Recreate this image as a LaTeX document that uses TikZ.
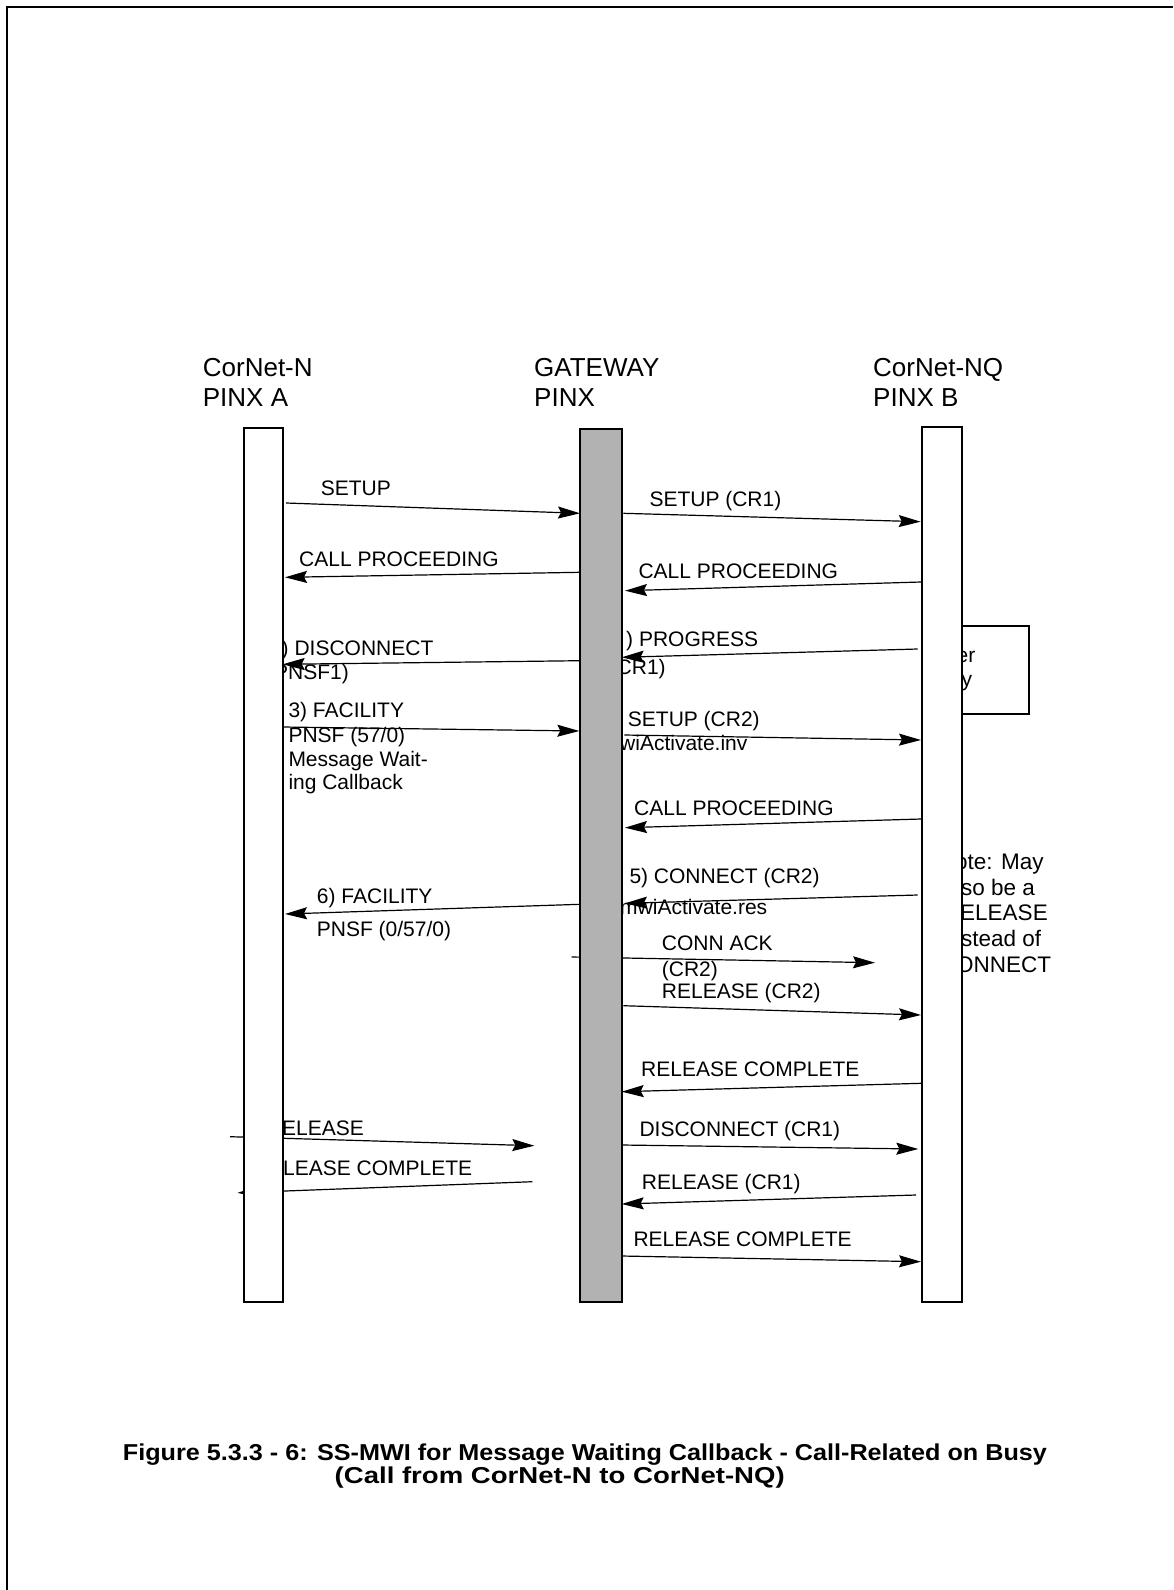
\documentclass[tikz,border=0pt]{standalone}
\usepackage{fontspec}
\setmainfont{Liberation Sans}
\usetikzlibrary{arrows.meta}
\begin{document}
\begin{tikzpicture}[x=1pt,y=-1pt,
  msg/.style={line width=1.2pt,-{Stealth[length=22pt,width=12pt,inset=3pt]}},
  lifebox/.style={draw,line width=2pt,fill=white,anchor=north west,inner sep=0pt,outer sep=0pt},
  gwbox/.style={lifebox,fill=black!30},
  lbl/.style={anchor=base west,inner sep=0pt,font=\fontsize{21}{24}\selectfont},
  hdr/.style={anchor=base west,inner sep=0pt,font=\fontsize{26}{30}\selectfont},
  notetxt/.style={anchor=base west,inner sep=0pt,font=\fontsize{22.5}{26}\selectfont},
  captxt/.style={anchor=base west,inner sep=0pt,font=\fontsize{23}{26}\selectfont\bfseries}]
\useasboundingbox (0,0) rectangle (1173,1590);
\fill[white] (0,0) rectangle (1173,1590);
% page frame (top and left edges)
\draw[line width=2pt] (7,1590) -- (7,7) -- (1173,7);

% headers
\node[hdr] (hA1) at (202.7,376.7) {CorNet-N};
\node[hdr] (hA2) at (202.7,406.7) {PINX A};
\node[hdr] (hG1) at (534,376) {GATEWAY};
\node[hdr] (hG2) at (534,406) {PINX};
\node[hdr] (hB1) at (873,376) {CorNet-NQ};
\node[hdr] (hB2) at (873,406) {PINX B};

% side box partly behind lifeline B
\node[draw,line width=2pt,fill=white,anchor=north west,inner sep=0pt,
      minimum width=80pt,minimum height=87.7pt] (sidebox) at (948.3,625) {};
\node[lbl] (sb1) at (956.5,662.7) {er};
\node[lbl] (sb2) at (961.5,686) {y};

% note right of lifeline B
\node[notetxt] (n1) at (955,869) {ote: May};
\node[notetxt] (n2) at (961,895) {so be a};
\node[notetxt] (n3) at (960,920.7) {ELEASE};
\node[notetxt] (n4) at (961,946) {stead of};
\node[notetxt] (n5) at (956,972.7) {ONNECT};

% connector end points
\coordinate (s1) at (286,503);     \coordinate (e1) at (580,513.3);
\coordinate (s2) at (580,572.3);   \coordinate (e2) at (285,577.3);
\coordinate (s3) at (623.3,513.3); \coordinate (e3) at (920.7,521.7);
\coordinate (s4) at (921,582);     \coordinate (e4) at (625,590.7);
\coordinate (s5) at (917.7,649);   \coordinate (e5) at (621.7,657.3);
\coordinate (s6) at (580,660.7);   \coordinate (e6) at (282.7,664.3);
\coordinate (s7) at (282.7,727);   \coordinate (e7) at (579.3,731);
\coordinate (s8) at (624.3,735);   \coordinate (e8) at (921,740);
\coordinate (s9) at (921,819);     \coordinate (e9) at (625,827.7);
\coordinate (s10) at (917.7,895);  \coordinate (e10) at (625,903.3);
\coordinate (s11) at (580,904.3);  \coordinate (e11) at (285,914);
\coordinate (s12) at (571.7,957);  \coordinate (e12) at (875,962.7);
\coordinate (s13) at (623.3,1005.7); \coordinate (e13) at (921,1015);
\coordinate (s14) at (921,1083.3); \coordinate (e14) at (621.7,1091.7);
\coordinate (s15) at (621.7,1145); \coordinate (e15) at (918.3,1149);
\coordinate (s16) at (916,1195);   \coordinate (e16) at (621.7,1204);
\coordinate (s17) at (621.7,1256); \coordinate (e17) at (921,1261.7);
\coordinate (s18) at (230,1136.7); \coordinate (e18) at (534.3,1145.7);
\coordinate (s19) at (532.3,1181.7); \coordinate (e19) at (237.5,1192.8);

\foreach \i in {1,...,19} {\draw[msg] (s\i) -- (e\i);}

% message labels
\node[lbl] (l1) at (320.7,495) {SETUP};
\node[lbl] (l2) at (299,566.7) {CALL PROCEEDING};
\node[lbl] (l3) at (649.3,506.7) {SETUP (CR1)};
\node[lbl] (l4) at (638.3,578.3) {CALL PROCEEDING};
\node[lbl] (l5a) at (626,646.7) {) PROGRESS};
\node[lbl] (l5b) at (616.5,674.3) {CR1)};
\node[lbl] (l6a) at (281.5,655) {) DISCONNECT};
\node[lbl] (l6b) at (274,679) {PNSF1)};
\node[lbl] (l7a) at (288.3,717.7) {3) FACILITY};
\node[lbl] (l7b) at (288.3,742.7) {PNSF (57/0)};
\node[lbl] (l7c) at (288.3,766) {Message Wait-};
\node[lbl] (l7d) at (288.3,789.3) {ing Callback};
\node[lbl] (l8a) at (627.7,726.7) {SETUP (CR2)};
\node[lbl] (l8b) at (620,750.7) {wiActivate.inv};
\node[lbl] (l9) at (634,815) {CALL PROCEEDING};
\node[lbl] (l10a) at (629.3,883.3) {5) CONNECT (CR2)};
\node[lbl] (l10b) at (620,914) {mwiActivate.res};
\node[lbl] (l11a) at (316.7,903.3) {6) FACILITY};
\node[lbl] (l11b) at (316.7,936.7) {PNSF (0/57/0)};
\node[lbl] (l12a) at (661.7,950) {CONN ACK};
\node[lbl] (l12b) at (661.7,976) {(CR2)};
\node[lbl] (l13) at (661.7,998.3) {RELEASE (CR2)};
\node[lbl] (l14) at (641,1076.7) {RELEASE COMPLETE};
\node[lbl] (l15) at (639.3,1136.7) {DISCONNECT (CR1)};
\node[lbl] (l16) at (641.7,1189.3) {RELEASE (CR1)};
\node[lbl] (l17) at (633.3,1246) {RELEASE COMPLETE};
\node[lbl] (l18) at (282,1135.7) {ELEASE};
\node[lbl] (l19) at (283,1175.7) {LEASE COMPLETE};

% lifelines (drawn on top)
\node[lifebox,minimum width=38.7pt,minimum height=874pt] (A) at (244,428) {};
\node[gwbox,minimum width=41.7pt,minimum height=873pt] (G) at (580,429) {};
\node[lifebox,minimum width=40pt,minimum height=875pt] (B) at (921.7,427) {};

% caption
\node[captxt] (cap1) at (122.7,1460) {\resizebox{924pt}{\height}{Figure 5.3.3 - 6: SS-MWI for Message Waiting Callback - Call-Related on Busy}};
\node[captxt] (cap2) at (334.5,1483) {\resizebox{450pt}{\height}{(Call from CorNet-N to CorNet-NQ)}};
\end{tikzpicture}
\end{document}
